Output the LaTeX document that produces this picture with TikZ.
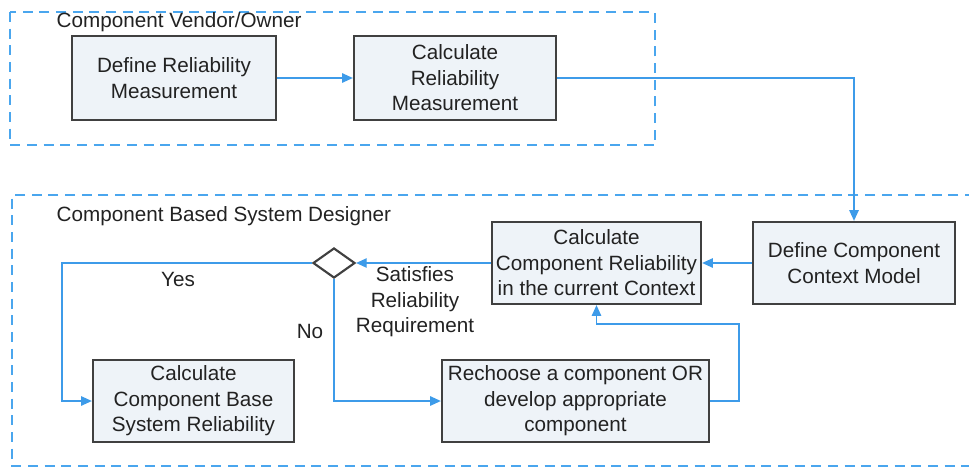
\documentclass[tikz,border=0pt]{standalone}
\usepackage{fontspec}
\setmainfont{Liberation Sans}
\usetikzlibrary{arrows.meta,shapes.geometric}
\definecolor{conn}{HTML}{3D9BE9}
\definecolor{dashc}{HTML}{4AA6EE}
\definecolor{boxfill}{HTML}{EEF3F8}
\definecolor{boxline}{HTML}{404040}
\definecolor{txt}{HTML}{222222}
\tikzset{
  stepbox/.style={draw=boxline, line width=1.7pt, fill=boxfill, align=center, inner sep=1pt,
    font=\fontsize{15.5}{19.2}\selectfont, text=txt},
  lane/.style={draw=dashc, line width=1.8pt, dash pattern=on 7.5pt off 5pt},
  flow/.style={draw=conn, line width=1.1pt, -{Triangle[length=8pt,width=7pt]}},
  lbl/.style={font=\fontsize{15.5}{19.2}\selectfont, text=txt, align=center},
  decision/.style={diamond, draw=boxline, line width=1.6pt, fill=white, minimum width=31.5pt, minimum height=22.5pt, inner sep=0pt, aspect=1.4}
}
\begin{document}
\begin{tikzpicture}[x=0.75pt,y=-0.75pt]
\useasboundingbox (0,0) rectangle (969,467);
% lanes
\draw[lane] (10,12) rectangle (655,145);
\draw[lane] (975,195) -- (12,195) -- (12,466) -- (975,466);
\node[lbl, anchor=west] (t1) at (52,22) {Component Vendor/Owner};
\node[lbl, anchor=west] (t2) at (52,216) {Component Based System Designer};
% boxes
\node[stepbox, minimum width=153pt, minimum height=63pt] (b1) at (174,78) {Define Reliability\\Measurement};
\node[stepbox, minimum width=151.5pt, minimum height=63pt] (b2) at (455,78) {Calculate\\Reliability\\Measurement};
\node[stepbox, minimum width=151.5pt, minimum height=61.5pt] (dccm) at (854,263) {Define Component\\Context Model};
\node[stepbox, minimum width=156.75pt, minimum height=61.5pt] (ccr) at (596.5,263) {Calculate\\Component Reliability\\in the current Context};
\node[stepbox, minimum width=150.75pt, minimum height=61.5pt] (cbsr) at (193.5,401) {Calculate\\Component Base\\System Reliability};
\node[stepbox, minimum width=200.25pt, minimum height=61.5pt] (rech) at (575.5,401) {Rechoose a component OR\\develop appropriate\\component};
\node[decision] (dia) at (334,263) {};
% connectors
\draw[flow] (b1.east) -- (b2.west);
\coordinate (c1) at (854,78);
\draw[flow] (b2.east) -- (c1) -- (dccm.north);
\draw[flow] (dccm.west) -- (ccr.east);
\draw[flow] (ccr.west) -- (dia.east);
\coordinate (c2) at (62,263);
\draw[flow] (dia.west) -- (c2) |- (cbsr.west);
\draw[flow] (dia.south) |- (rech.west);
\coordinate (f1) at (739,401);
\coordinate (f2) at (739,324);
\draw[flow] (rech.east) -- (f1) -- (f2) -| (ccr.south);
% labels
\node[lbl] (yes) at (178,279) {Yes};
\node[lbl] (no) at (310,331) {No};
\node[lbl] (sat) at (415,302) {Satisfies\\Reliability\\Requirement};
\end{tikzpicture}
\end{document}
